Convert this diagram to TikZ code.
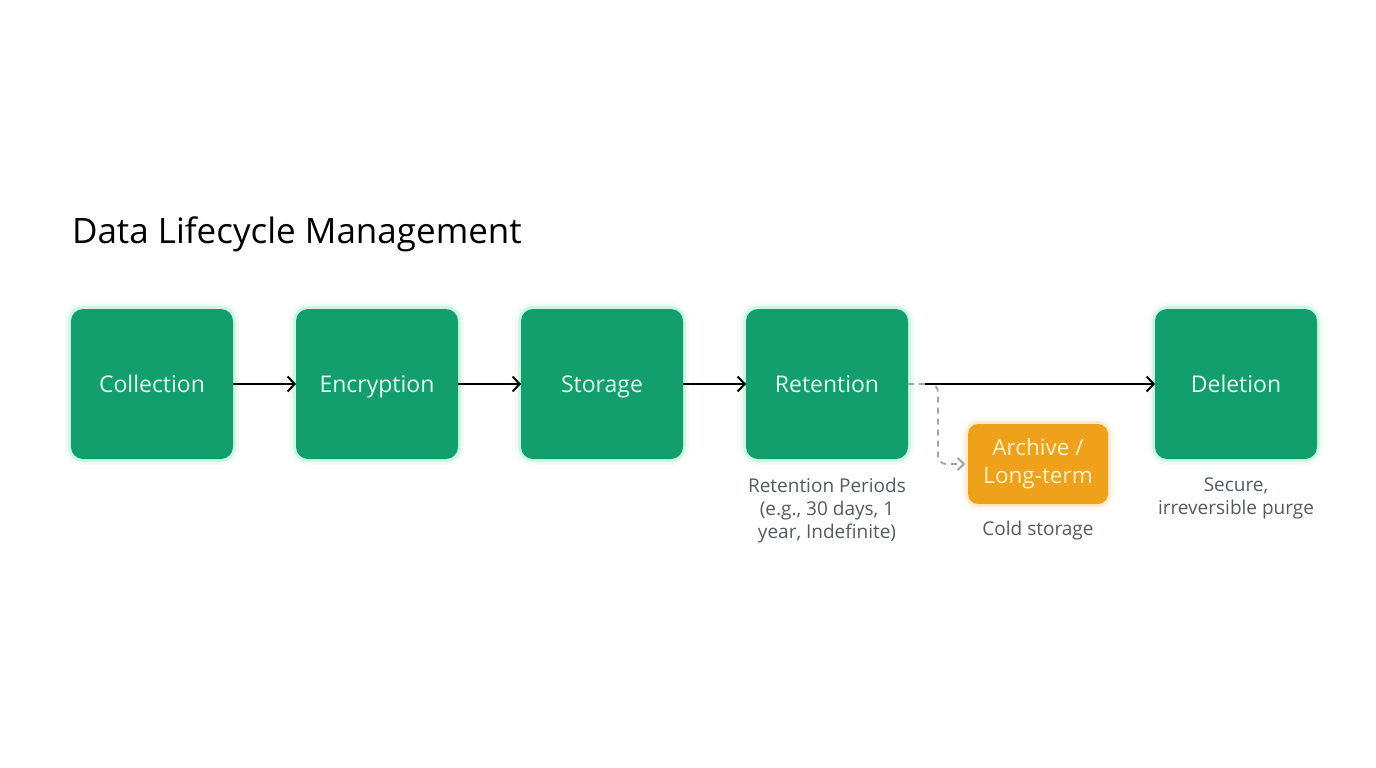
\documentclass[tikz,border=0pt]{standalone}
\usepackage{fontspec}
\setmainfont{Open Sans}
\usetikzlibrary{positioning,arrows.meta}
\definecolor{boxgreen}{HTML}{129E6D}
\definecolor{boxtext}{HTML}{E4FBF0}
\definecolor{greenglow}{HTML}{9EEBC8}
\definecolor{boxorange}{HTML}{F0A11C}
\definecolor{orangetext}{HTML}{FFF2C8}
\definecolor{orangeglow}{HTML}{FFD9A0}
\definecolor{notegray}{HTML}{555A5E}
\definecolor{dashgray}{HTML}{A3A3A3}

\begin{document}
\begin{tikzpicture}[x=1pt,y=-1pt,node distance=63pt,line width=2pt,
  stage/.style={rectangle,rounded corners=12pt,fill=boxgreen,text=boxtext,
    minimum width=162pt,minimum height=150pt,outer sep=0pt,
    text height=16pt,text depth=0pt,
    font=\fontsize{23}{27}\selectfont,
    preaction={draw=greenglow,line width=12pt,opacity=.15},
    preaction={draw=greenglow,line width=6pt,opacity=.4}},
  archive/.style={rectangle,rounded corners=10pt,fill=boxorange,text=orangetext,
    minimum width=140pt,minimum height=80pt,outer sep=0pt,align=center,
    font=\fontsize{22.5}{28}\selectfont,
    preaction={draw=orangeglow,line width=12pt,opacity=.15},
    preaction={draw=orangeglow,line width=6pt,opacity=.4}},
  note/.style={inner sep=0pt,align=center,text=notegray,
    font=\fontsize{19}{23}\selectfont},
  flow/.style={draw=black,-{Straight Barb[length=7pt,width=15pt]}},
  side/.style={draw=dashgray,dash pattern=on 6pt off 5pt,line width=1.8pt}]
  \useasboundingbox (0,0) rectangle (1376,768);

  \node[anchor=base west,inner sep=0pt,font=\fontsize{35}{40}\selectfont]
    (title) at (71,243) {Data Lifecycle Management};

  % main stages
  \node[stage]                  (C) at (152,384) {Collection};
  \node[stage,right=of C]       (E) {Encryption};
  \node[stage,right=of E]       (S) {Storage};
  \node[stage,right=of S]       (R) {Retention};
  \node[stage,right=247pt of R] (D) {Deletion};
  \node[archive]                (A) at (1038,464) {Archive /\\Long-term};

  % notes
  \node[note,below=18pt of R] (Rn) {Retention Periods\\(e.g., 30 days, 1\\year, Indefinite)};
  \node[note,below=16pt of A] (An) {Cold storage};
  \node[note,below=18pt of D] (Dn) {Secure,\\irreversible purge};

  \coordinate (split) at (925,384);

  \path[flow] (C) -- (E);
  \path[flow] (E) -- (S);
  \path[flow] (S) -- (R);
  \draw[side] (R.east) -- (split);
  \draw[side,rounded corners=8pt,-{Straight Barb[length=6pt,width=12pt]},shorten >=3pt]
    (split) -| (938,464) -- (A.west);
  \path[flow] (split) -- (D);
\end{tikzpicture}
\end{document}
